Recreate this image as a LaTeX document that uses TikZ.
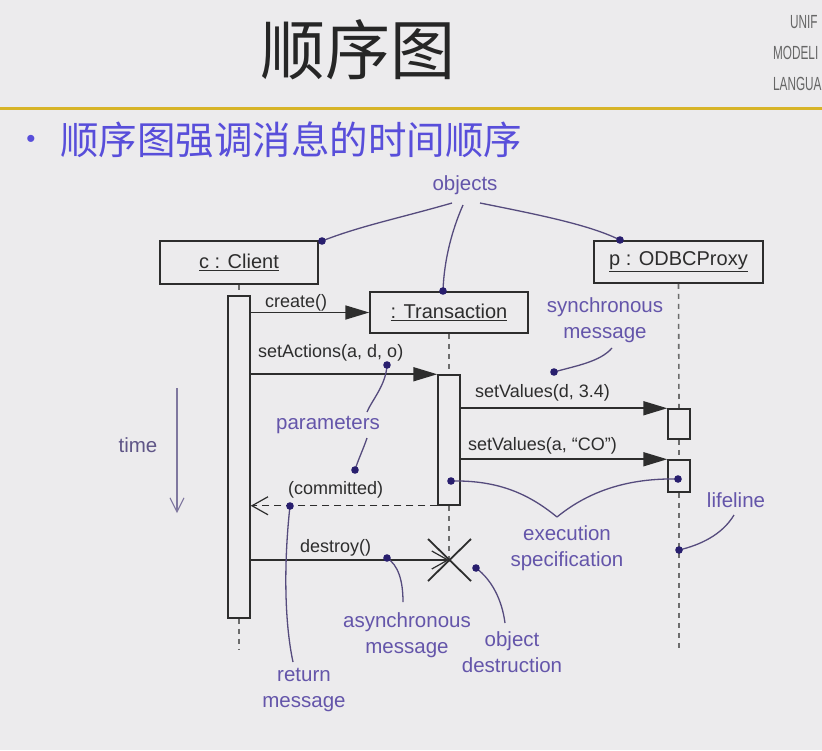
\documentclass[tikz,border=0pt]{standalone}
\usepackage{fontspec}
\setmainfont{Liberation Sans}
\newfontfamily\cjk{Noto Sans CJK SC}
\usetikzlibrary{arrows.meta}
\definecolor{bg}{RGB}{236,235,237}
\definecolor{ann}{RGB}{100,85,170}
\definecolor{dotc}{RGB}{40,30,110}
\definecolor{annline}{RGB}{85,75,125}
\definecolor{ink}{RGB}{45,45,45}
\definecolor{gold}{RGB}{215,180,40}
\definecolor{bluetxt}{RGB}{88,78,218}
\definecolor{timec}{RGB}{95,85,135}
\tikzset{
  objbox/.style={draw=ink, line width=1.5pt, fill=bg, inner sep=0pt, font=\fontsize{20}{22}\selectfont, text=ink},
  actbar/.style={draw=ink, line width=1.5pt, fill=bg, inner sep=0pt, minimum width=22},
  lifeln/.style={draw=ink!70, line width=1.6pt, dash pattern=on 5pt off 5pt},
  msg/.style={draw=ink, line width=1.8pt},
  syncmsg/.style={msg, -{Triangle[length=24,width=14]}},
  openmsg/.style={msg, -{Straight Barb[length=16,width=18,line width=1.2pt]}},
  lbl/.style={font=\fontsize{18}{20}\selectfont, text=ink, inner sep=0pt},
  annot/.style={font=\fontsize{20.5}{26}\selectfont, text=ann, align=center, inner sep=0pt},
  annl/.style={draw=annline, line width=1.3pt},
  dotmark/.style={fill=dotc, draw=none},
  umltxt/.style={anchor=west, font=\fontsize{19}{20}\selectfont, text=black!60, xscale=0.62, inner sep=0pt}
}
\begin{document}
\begin{tikzpicture}[x=1pt,y=-1pt]
\useasboundingbox (0,0) rectangle (822,750);
\clip (0,0) rectangle (822,750);
\fill[bg] (0,0) rectangle (822,750);

% header
\node[font=\cjk\fontsize{65}{70}\selectfont, text=black!85] (title) at (358,50) {顺序图};
\node[umltxt] (uml1) at (790,22) {UNIF};
\node[umltxt] (uml2) at (773,53) {MODELI};
\node[umltxt] (uml3) at (773,84) {LANGUA};
\fill[gold] (0,106.5) rectangle (822,110);
\node[text=bluetxt, font=\fontsize{26}{28}\selectfont, inner sep=0pt] (bullet) at (31,141) {•};
\node[anchor=west, text=bluetxt, font=\cjk\fontsize{38.5}{40}\selectfont, inner sep=0pt] (sub) at (60,140) {顺序图强调消息的时间顺序};

% objects
\node[objbox, minimum width=158, minimum height=43] (client) at (239,262.5) {\underline{c : Client}};
\node[objbox, minimum width=158, minimum height=41] (trans) at (449,312.5) {\underline{: Transaction}};
\node[objbox, minimum width=169, minimum height=42] (proxy) at (678.5,262) {\underline{p : ODBCProxy}};

% lifelines
\coordinate (cend) at (239,650);
\coordinate (pend) at (679,648);
\node[actbar, minimum height=322] (cbar) at (239,457) {};
\node[actbar, minimum height=130] (tbar) at (449,440) {};
\node[actbar, minimum height=30] (pa1) at (679,424) {};
\node[actbar, minimum height=32] (pa2) at (679,476) {};
\coordinate (xc) at (449,560);
\draw[lifeln] (client.south) -- (cbar.north);
\draw[lifeln] (cbar.south) -- (cend);
\draw[lifeln] (trans.south) -- (tbar.north);
\draw[lifeln] (tbar.south) -- (xc);
\draw[lifeln] (proxy.south) -- (pa1.north);
\draw[lifeln] (pa1.south) -- (pa2.north);
\draw[lifeln] (pa2.south) -- (pend);
% redraw bars on top
\node[actbar, minimum height=322] at (239,457) {};
\node[actbar, minimum height=130] at (449,440) {};
\node[actbar, minimum height=30] at (679,424) {};
\node[actbar, minimum height=32] at (679,476) {};

% destruction mark
\coordinate (x1) at (428,539);
\coordinate (x2) at (471,581);
\coordinate (x3) at (471,539);
\coordinate (x4) at (428,581);
\draw[msg, line width=1.8pt] (x1) -- (x2);
\draw[msg, line width=1.8pt] (x3) -- (x4);

% messages
\draw[syncmsg] (cbar.east |- trans.west) -- (trans.west);
\draw[syncmsg] (cbar.east |- tbar.north) -- (tbar.north west);
\draw[syncmsg] (tbar.east |- pa1.north) -- (pa1.north west);
\draw[syncmsg] (tbar.east |- pa2.north) -- (pa2.north west);
\draw[openmsg, line width=1.4pt, dash pattern=on 7pt off 5pt] (tbar.south west) -- (cbar.east |- tbar.south);
\draw[openmsg, line width=1.4pt] (cbar.east |- xc) -- (xc);

\node[lbl, anchor=base west] (l1) at (265,307) {create()};
\node[lbl, anchor=base west] (l2) at (258,357) {setActions(a, d, o)};
\node[lbl, anchor=base west] (l3) at (475,397) {setValues(d, 3.4)};
\node[lbl, anchor=base west] (l4) at (468,450) {setValues(a, “CO”)};
\node[lbl, anchor=base west] (l5) at (288,494) {(committed)};
\node[lbl, anchor=base west] (l6) at (300,552) {destroy()};

% time
\node[font=\fontsize{20.5}{22}\selectfont, text=timec, inner sep=0pt] (time) at (138,445) {time};
\coordinate (t1) at (177,388);
\coordinate (t2) at (177,513);
\draw[draw=timec!80, line width=1.3pt, -{Straight Barb[length=14,width=14,line width=1.1pt]}] (t1) -- (t2);

% annotations
\node[annot] (objects) at (465,185) {objects};
\coordinate (dO1) at (322,241);
\coordinate (dO2) at (443,291);
\coordinate (dO3) at (620,240);
\draw[annl] (452,203) .. controls (400,218) and (360,226) .. (dO1);
\draw[annl] (463,205) .. controls (452,230) and (444,260) .. (dO2);
\draw[annl] (480,203) .. controls (540,215) and (590,225) .. (dO3);
\fill[dotmark] (dO1) circle (3.8);
\fill[dotmark] (dO2) circle (3.8);
\fill[dotmark] (dO3) circle (3.8);

\node[annot] (sync) at (605,320) {synchronous\\message};
\coordinate (dS) at (554,372);
\draw[annl] (612,348) .. controls (600,362) and (575,366) .. (dS);
\fill[dotmark] (dS) circle (3.8);

\node[annot] (params) at (328,425) {parameters};
\coordinate (dP1) at (387,365);
\coordinate (dP2) at (355,470);
\draw[annl] (dP1) .. controls (386,385) and (372,400) .. (367,412);
\draw[annl] (367,438) .. controls (363,450) and (358,460) .. (dP2);
\fill[dotmark] (dP1) circle (3.8);
\fill[dotmark] (dP2) circle (3.8);

\node[annot] (exec) at (567,548) {execution\\specification};
\coordinate (dE1) at (451,481);
\coordinate (dE2) at (678,479);
\draw[annl] (dE1) .. controls (500,480) and (530,495) .. (557,517);
\draw[annl] (557,517) .. controls (590,490) and (630,478) .. (dE2);
\fill[dotmark] (dE1) circle (3.8);
\fill[dotmark] (dE2) circle (3.8);

\node[annot] (life) at (736,500) {lifeline};
\coordinate (dL) at (679,550);
\draw[annl] (734,515) .. controls (722,535) and (700,545) .. (dL);
\fill[dotmark] (dL) circle (3.8);

\node[annot] (async) at (407,635) {asynchronous\\message};
\coordinate (dA) at (387,558);
\draw[annl] (dA) .. controls (398,565) and (403,580) .. (403,602);
\fill[dotmark] (dA) circle (3.8);

\node[annot] (odest) at (512,652) {object\\destruction};
\coordinate (dD) at (476,568);
\draw[annl] (dD) .. controls (492,580) and (502,600) .. (505,623);
\fill[dotmark] (dD) circle (3.8);

\node[annot] (ret) at (304,690) {return\\message};
\coordinate (dR) at (290,506);
\draw[annl] (dR) .. controls (284,560) and (284,620) .. (293,662);
\fill[dotmark] (dR) circle (3.8);
\end{tikzpicture}
\end{document}
